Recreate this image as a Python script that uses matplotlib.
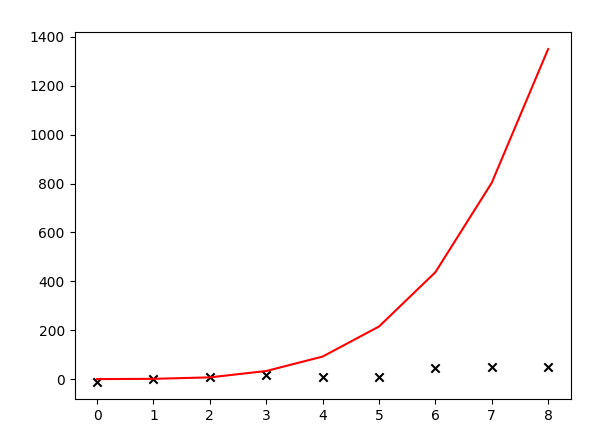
import numpy as np
import matplotlib
matplotlib.use("Agg")
import matplotlib.pyplot as plt

## Data ##
xs = [0, 1, 2, 3, 4, 5, 6, 7, 8]
observed = [-14, 0, 7, 17, 7, 7, 44, 50, 50]
fitted = [0, 1, 7, 33, 92, 215, 437, 803, 1350]

fig = plt.figure(figsize=(6.11, 4.32), dpi=100)
fig.subplots_adjust(left=0.122, right=0.934, bottom=0.076, top=0.925)
ax = fig.add_subplot()

ax.scatter(xs, observed, marker="x", c="k")
ax.plot(xs, fitted, c="r")

fig.savefig("out.png")
